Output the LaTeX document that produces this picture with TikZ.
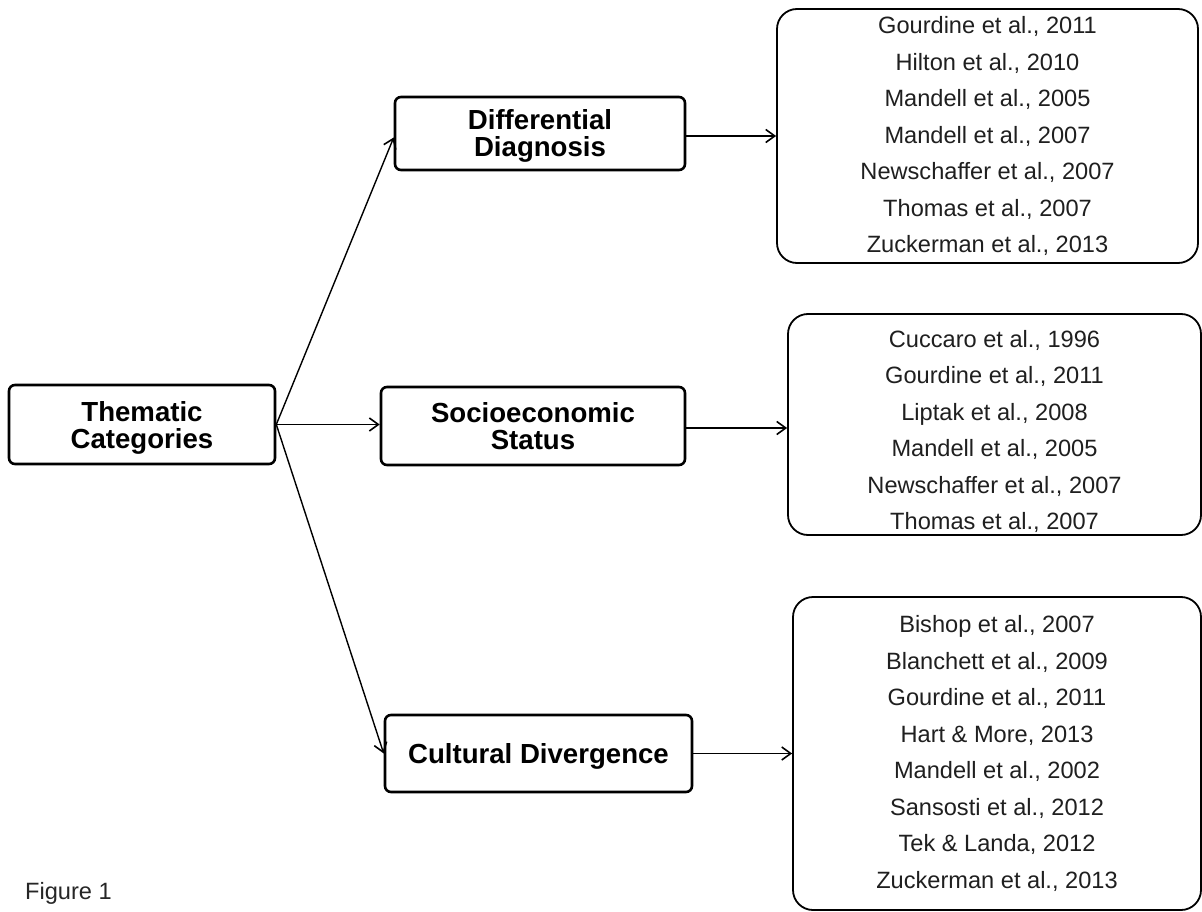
\documentclass[tikz,border=0pt]{standalone}
\usepackage{fontspec}
\setmainfont{Liberation Sans}
\usetikzlibrary{arrows.meta}
\begin{document}
\begin{tikzpicture}[x=1pt,y=-1pt,
  catbox/.style={draw=black, line width=2.6pt, rounded corners=6pt, fill=white,
    align=center, inner sep=0pt, text depth=0pt,
    font=\fontsize{27.6}{27}\selectfont\bfseries},
  refbox/.style={draw=black, line width=1.8pt, rounded corners=20pt, fill=white,
    align=center, inner sep=0pt, text=black!88,
    font=\fontsize{23.6}{36.5}\selectfont},
  link/.style={draw=black, line width=1.4pt,
    -{Straight Barb[length=9pt,width=13pt,line width=1.6pt]}}
]
\useasboundingbox[fill=white] (0,0) rectangle (1202,912);

% category boxes
\node[catbox, minimum width=266pt, minimum height=79pt] (them) at (142,424.5) {Thematic\\Categories};
\node[catbox, minimum width=290pt, minimum height=73pt] (diff) at (540,133.5) {Differential\\Diagnosis};
\node[catbox, minimum width=304pt, minimum height=78pt] (socio) at (533,426) {Socioeconomic\\Status};
\node[catbox, minimum width=307pt, minimum height=77pt] (cult) at (538.5,753.5) {Cultural Divergence};

% reference lists
\node[refbox, minimum width=421pt, minimum height=254pt] (refA) at (987.5,136) {%
  Gourdine et al., 2011\\Hilton et al., 2010\\Mandell et al., 2005\\Mandell et al., 2007\\%
  Newschaffer et al., 2007\\Thomas et al., 2007\\Zuckerman et al., 2013};
% a taller first line pushes this list a little lower in its box
\node[refbox, minimum width=413pt, minimum height=221pt] (refB) at (994.5,424.5) {%
  \rule{0pt}{31pt}Cuccaro et al., 1996\\Gourdine et al., 2011\\Liptak et al., 2008\\Mandell et al., 2005\\%
  Newschaffer et al., 2007\\Thomas et al., 2007};
\node[refbox, minimum width=408pt, minimum height=313pt] (refC) at (997,753.5) {%
  Bishop et al., 2007\\Blanchett et al., 2009\\Gourdine et al., 2011\\Hart \& More, 2013\\%
  Mandell et al., 2002\\Sansosti et al., 2012\\Tek \& Landa, 2012\\Zuckerman et al., 2013};

% connectors (yshift is in page units: negative moves down)
\draw[link] (them.east) -- ([yshift=-4pt]diff.west);
\draw[link] (them.east) -- (them.east -| socio.west);
\draw[link] (them.east) -- (cult.west);
\draw[link] ([yshift=-2.5pt]diff.east) -- ([yshift=-2.5pt]diff.east -| refA.west);
\draw[link] ([yshift=-2pt]socio.east) -- ([yshift=-2pt]socio.east -| refB.west);
\draw[link] (cult.east) -- (cult.east -| refC.west);

% caption
\node[anchor=west, inner sep=0pt, text=black!85, font=\fontsize{23.6}{28}\selectfont] (cap) at (25,893) {Figure 1};
\end{tikzpicture}
\end{document}
